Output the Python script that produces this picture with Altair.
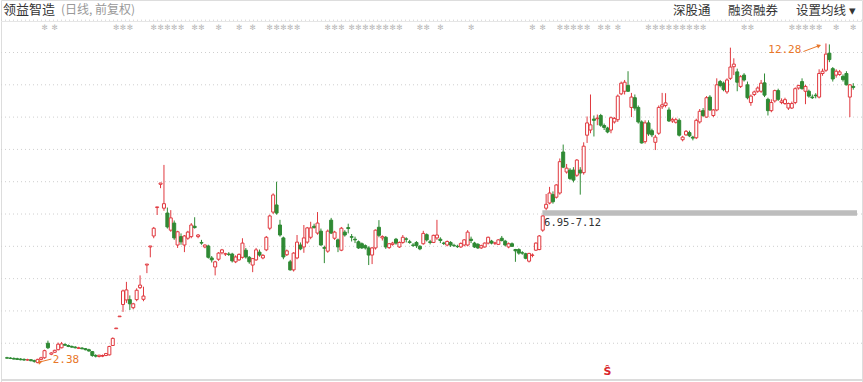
import altair as alt
import pandas as pd
import numpy as np

OPEN = [2.55,2.54,2.53,2.52,2.51,2.50,2.48,2.49,2.46,2.40,2.50,2.55,3.00,2.66,2.72,2.80,2.86,2.96,2.93,2.90,
        2.88,2.84,2.85,2.83,2.80,2.74,2.62,2.59,2.60,2.62,2.64,2.93,3.45,3.82,4.20,4.34,4.35,4.10,4.35,4.72,
        4.36,5.42,5.98,6.32,7.20,7.92,7.18,7.03,6.50,6.72,6.04,6.30,6.04,6.25,6.30,6.62,6.30,6.12,5.98,6.01,
        5.64,5.36,5.60,5.80,5.76,5.76,5.76,5.52,5.58,5.66,5.88,5.66,5.42,5.58,5.82,5.64,5.89,6.56,7.06,7.28,
        6.66,6.26,5.74,5.52,5.27,5.64,6.04,5.98,6.13,6.28,6.62,6.41,6.47,5.96,5.85,6.81,6.25,6.20,5.88,6.44,
        6.58,6.30,6.22,6.14,6.08,6.02,5.95,5.73,5.95,6.59,6.26,6.28,5.96,6.06,6.22,5.98,6.12,6.23,6.14,6.04,
        6.12,6.00,6.08,6.36,6.14,6.12,6.26,6.22,6.10,6.04,6.12,6.03,6.00,5.98,6.04,6.04,6.22,6.10,6.06,5.95,
        5.98,6.10,6.16,6.10,6.06,6.25,6.16,5.98,6.08,5.90,5.90,5.80,5.77,5.54,5.72,5.88,5.90,6.50,7.18,7.34,
        7.60,7.52,7.65,8.92,8.30,8.36,8.36,8.20,8.36,8.28,9.44,9.60,9.94,9.95,10.05,9.74,9.66,9.60,9.85,9.92,
        10.72,10.80,10.98,10.30,10.60,10.30,9.85,9.24,9.82,9.58,9.22,9.50,10.32,10.36,10.22,9.88,9.84,9.90,9.30,9.45,
        9.52,9.38,9.36,9.85,10.20,10.00,10.62,10.05,10.22,11.10,11.05,10.78,11.20,11.56,11.40,10.95,11.30,11.00,10.45,10.70,
        10.80,10.80,11.06,10.55,10.20,10.50,10.82,10.45,10.42,10.28,10.28,10.45,10.90,11.10,10.80,10.80,10.62,10.68,10.62,11.35,
        11.45,11.98,11.50,11.30,11.32,11.26,11.35,10.62,10.95]
HIGH = [2.58,2.57,2.56,2.55,2.54,2.53,2.52,2.50,2.49,2.52,2.58,2.80,3.08,2.72,2.80,3.02,3.04,3.00,2.96,2.93,
        2.91,2.89,2.88,2.85,2.83,2.76,2.66,2.64,2.65,2.70,2.92,3.18,3.47,3.84,4.66,4.90,4.48,4.25,4.70,5.10,
        4.75,5.45,6.01,6.60,7.22,7.96,8.52,7.20,7.12,6.80,6.48,6.40,6.35,6.48,6.72,6.90,6.38,6.20,6.06,6.05,
        5.70,5.55,5.82,5.92,5.80,5.82,5.80,5.72,5.78,6.25,5.95,5.70,5.64,5.95,5.90,5.76,6.32,6.98,7.64,8.00,
        6.82,6.30,5.90,5.58,5.82,6.35,6.12,6.66,6.60,6.76,6.70,7.06,6.55,6.02,6.52,6.88,6.48,6.24,6.60,6.50,
        6.70,6.38,6.30,6.18,6.12,6.06,6.00,5.98,6.52,6.81,6.34,6.32,6.10,6.14,6.26,6.15,6.35,6.28,6.20,6.10,
        6.16,6.04,6.48,6.40,6.20,6.36,6.82,6.28,6.14,6.18,6.16,6.08,6.05,6.12,6.22,6.50,6.30,6.14,6.10,6.05,
        6.12,6.30,6.20,6.14,6.22,6.32,6.20,6.12,6.12,5.92,5.94,5.85,5.80,5.80,5.78,6.12,6.35,6.95,7.62,7.84,
        7.70,7.92,8.72,9.15,8.55,8.42,8.45,8.70,8.45,9.22,10.02,10.70,10.05,10.08,10.10,9.80,9.70,10.02,10.00,10.70,
        11.10,11.15,11.42,10.75,10.70,10.36,9.90,9.90,9.90,9.64,9.45,10.36,10.75,10.74,10.30,9.98,9.98,9.96,9.42,9.60,
        9.58,9.42,9.95,10.25,10.28,10.65,10.68,10.25,11.20,11.15,11.10,11.20,12.15,11.82,11.50,11.30,11.36,11.10,10.70,10.82,
        10.95,11.15,11.35,10.60,10.55,10.85,10.88,10.58,10.60,10.45,10.48,10.92,11.00,11.20,11.00,10.85,10.70,10.74,11.48,11.50,
        12.28,12.25,11.55,11.48,11.46,11.32,11.42,11.02,11.05]
LOW = [2.52,2.51,2.50,2.48,2.47,2.46,2.46,2.44,2.40,2.38,2.47,2.52,2.82,2.63,2.70,2.78,2.84,2.92,2.88,2.86,
       2.84,2.82,2.81,2.78,2.74,2.58,2.56,2.56,2.57,2.60,2.62,2.92,3.45,3.82,3.97,4.25,4.03,4.05,4.30,4.68,
       4.30,5.17,5.66,6.25,6.97,7.80,7.10,6.55,6.45,6.20,5.95,6.05,5.82,6.20,6.25,6.55,6.25,6.05,5.94,5.62,
       5.50,5.10,5.55,5.75,5.70,5.70,5.50,5.48,5.55,5.62,5.62,5.46,5.20,5.55,5.68,5.60,5.85,6.50,7.00,6.98,
       6.30,5.60,5.70,5.25,5.22,5.60,5.88,5.80,6.08,6.22,6.55,6.36,6.02,5.48,5.80,6.38,6.20,5.82,5.85,6.30,
       6.40,6.15,6.10,5.92,5.92,5.90,5.42,5.45,5.90,6.28,6.18,5.92,5.92,6.02,6.05,5.95,6.08,6.12,6.08,5.98,
       5.95,5.88,6.05,6.15,6.06,6.10,6.20,6.10,6.04,6.00,5.98,5.98,5.95,5.95,6.00,6.00,6.10,5.95,5.92,5.92,
       5.96,6.06,6.06,6.04,6.04,6.15,6.00,5.94,5.98,5.52,5.74,5.74,5.60,5.50,5.66,5.86,5.88,6.45,7.12,7.30,
       7.32,7.48,7.60,8.42,8.25,8.05,7.98,8.15,7.60,8.22,9.20,9.50,9.40,9.75,9.70,9.60,9.50,9.50,9.80,9.85,
       10.68,10.70,10.78,10.00,10.20,9.80,9.18,9.18,9.42,9.38,8.98,9.45,10.25,10.30,9.85,9.82,9.80,9.40,9.25,9.42,
       9.38,9.28,9.32,9.80,10.00,9.98,10.20,10.00,10.18,10.92,10.80,10.72,11.15,11.30,10.80,10.90,11.10,10.55,10.35,10.65,
       10.75,10.75,10.62,10.05,10.15,10.45,10.50,10.40,10.38,10.22,10.25,10.40,10.85,10.85,10.40,10.60,10.56,10.58,10.58,11.28,
       11.40,11.70,11.10,11.22,11.28,11.10,10.98,10.00,10.85]
CLOSE = [2.54,2.53,2.51,2.50,2.49,2.48,2.49,2.46,2.44,2.50,2.55,2.77,2.86,2.70,2.78,2.97,2.98,2.94,2.90,2.88,
         2.86,2.86,2.83,2.80,2.76,2.62,2.60,2.63,2.62,2.68,2.90,3.15,3.47,3.84,4.62,4.65,4.22,4.22,4.64,4.80,
         4.46,5.45,6.01,6.56,7.22,7.96,7.32,6.60,6.88,6.26,6.45,6.14,6.32,6.44,6.66,6.58,6.35,6.10,6.04,5.66,
         5.58,5.52,5.79,5.89,5.77,5.75,5.55,5.67,5.75,6.10,5.67,5.52,5.62,5.89,5.73,5.72,6.28,6.94,7.59,7.03,
         6.35,5.67,5.86,5.27,5.79,6.13,5.92,6.26,6.57,6.57,6.58,6.72,6.04,5.94,6.47,6.41,6.44,5.98,6.56,6.35,
         6.55,6.28,6.20,5.95,5.95,5.95,5.73,5.95,6.50,6.34,6.30,5.98,6.08,6.10,6.10,6.12,6.28,6.22,6.12,6.03,
         6.02,5.92,6.40,6.20,6.12,6.34,6.35,6.18,6.09,6.15,6.04,6.02,5.99,6.09,6.20,6.44,6.18,5.98,5.95,6.02,
         6.10,6.28,6.10,6.10,6.20,6.18,6.04,6.08,6.00,5.86,5.79,5.79,5.63,5.78,5.73,6.10,6.32,6.94,7.30,7.65,
         7.38,7.90,8.62,8.45,8.42,8.10,8.05,8.67,8.27,9.10,9.82,9.76,9.90,9.97,9.75,9.68,9.54,9.98,9.96,10.65,
         11.05,11.08,10.80,10.62,10.28,9.85,9.20,9.82,9.48,9.45,9.38,10.30,10.38,10.44,9.88,9.93,9.92,9.44,9.38,9.56,
         9.42,9.35,9.90,10.18,10.05,10.60,10.22,10.22,11.00,10.98,10.85,11.15,11.55,11.64,11.08,11.25,11.15,10.60,10.65,10.78,
         10.90,11.05,10.68,10.20,10.45,10.82,10.55,10.50,10.54,10.42,10.42,10.88,10.98,10.88,10.95,10.65,10.60,10.66,11.35,11.42,
         11.95,11.78,11.18,11.42,11.40,11.16,11.00,11.00,10.92]

GRID_PRICES = [3, 4, 5, 6, 7, 8, 9, 10, 11, 12, 13]
EVENT_IDX = [11, 14, 32, 34, 36, 43, 45, 47, 49, 51, 55, 57, 62, 68, 72, 77, 79, 81, 83, 85,
             94, 96, 98, 101, 103, 105, 107, 109, 111, 113, 115, 121, 123, 127, 136, 154, 157,
             162, 164, 166, 168, 170, 174, 176, 179, 188, 190, 192, 194, 196, 198, 200, 202, 204,
             216, 218, 230, 232, 234, 236, 238, 243, 248]
GAP_LOW, GAP_HIGH = 6.95, 7.12
GAP_LABEL = "6.95-7.12"
HIGH_LABEL = "12.28"
LOW_LABEL = "2.38"
TITLE = "领益智造"
SUBTITLE = "(日线, 前复权)"
MENU = ["深股通", "融资融券", "设置均线 ▾"]
S_MARK_IDX = 176

UP = "#e0383e"
DOWN = "#2f8a34"
ORANGE = "#e8772a"

n = len(OPEN)
df = pd.DataFrame({"i": np.arange(n), "o": OPEN, "h": HIGH, "l": LOW, "c": CLOSE})
df["top"] = df[["o", "c"]].max(axis=1)
df["bot"] = df[["o", "c"]].min(axis=1)
df["dir"] = np.where(df["c"] >= df["o"], "up", "down")

xs = alt.Scale(domain=[-0.29, 249.1], nice=False, zero=False)
ys = alt.Scale(domain=[1.80, 13.625], nice=False, zero=False)
col = alt.Color("dir:N", scale=alt.Scale(domain=["up", "down"], range=[UP, DOWN]), legend=None)
fillc = alt.Fill("dir:N", scale=alt.Scale(domain=["up", "down"], range=["#ffffff", DOWN]), legend=None)

base = alt.Chart(df)

grid = alt.Chart(pd.DataFrame({"p": GRID_PRICES})).mark_rule(
    color="#cfcfcf", strokeDash=[1, 3], strokeWidth=1
).encode(y=alt.Y("p:Q", scale=ys, axis=None), x=alt.value(0), x2=alt.value(863))

gap = alt.Chart(pd.DataFrame({"x": [156.9], "x2": [249.1], "y": [GAP_LOW], "y2": [GAP_HIGH]})).mark_rect(
    color="#bdbdbd"
).encode(x=alt.X("x:Q", scale=xs, axis=None), x2="x2:Q", y=alt.Y("y:Q", scale=ys, axis=None), y2="y2:Q")

gap_text = alt.Chart(pd.DataFrame({"x": [157.4], "y": [6.72], "t": [GAP_LABEL]})).mark_text(
    align="left", baseline="middle", font="DejaVu Sans Mono", fontSize=10.5, color="#333333"
).encode(x=alt.X("x:Q", scale=xs, axis=None), y=alt.Y("y:Q", scale=ys, axis=None), text="t:N")

wicks = base.mark_rule(strokeWidth=1).encode(
    x=alt.X("i:Q", scale=xs, axis=None),
    y=alt.Y("l:Q", scale=ys, axis=None),
    y2="h:Q",
    color=col,
)
bodies = base.mark_bar(size=3, strokeWidth=1).encode(
    x=alt.X("i:Q", scale=xs, axis=None),
    y=alt.Y("bot:Q", scale=ys, axis=None),
    y2="top:Q",
    stroke=alt.Stroke("dir:N", scale=alt.Scale(domain=["up", "down"], range=[UP, DOWN]), legend=None),
    fill=fillc,
)

# annotations for high / low
ann_lines = pd.DataFrame({
    "g": ["h", "h", "l", "l"],
    "x": [233.4, 238.2, 13.0, 9.6],
    "y": [12.03, 12.22, 2.51, 2.42],
})
arrows = alt.Chart(ann_lines).mark_line(color=ORANGE, strokeWidth=1).encode(
    x=alt.X("x:Q", scale=xs, axis=None), y=alt.Y("y:Q", scale=ys, axis=None), detail="g:N"
)
heads = alt.Chart(pd.DataFrame({"x": [238.0, 9.8], "y": [12.21, 2.42], "a": [340, 347]})).mark_point(
    shape="triangle-right", filled=True, color=ORANGE, size=22, opacity=1
).encode(x=alt.X("x:Q", scale=xs, axis=None), y=alt.Y("y:Q", scale=ys, axis=None), angle=alt.Angle("a:Q", scale=None))
high_txt = alt.Chart(pd.DataFrame({"x": [232.8], "y": [12.08], "t": [HIGH_LABEL]})).mark_text(
    align="right", baseline="middle", font="DejaVu Sans Mono", fontSize=11, color=ORANGE
).encode(x=alt.X("x:Q", scale=xs, axis=None), y=alt.Y("y:Q", scale=ys, axis=None), text="t:N")
low_txt = alt.Chart(pd.DataFrame({"x": [13.4], "y": [2.47], "t": [LOW_LABEL]})).mark_text(
    align="left", baseline="middle", font="DejaVu Sans Mono", fontSize=11, color=ORANGE
).encode(x=alt.X("x:Q", scale=xs, axis=None), y=alt.Y("y:Q", scale=ys, axis=None), text="t:N")

# event markers row
events = alt.Chart(pd.DataFrame({"i": EVENT_IDX, "t": ["✻"] * len(EVENT_IDX)})).mark_text(
    font="DejaVu Sans", fontSize=7.5, color="#b8b8b8", baseline="middle"
).encode(x=alt.X("i:Q", scale=xs, axis=None), y=alt.value(28), text="t:N")

s_mark = alt.Chart(pd.DataFrame({"i": [S_MARK_IDX], "t": ["Ŝ"]})).mark_text(
    font="DejaVu Sans", fontSize=11, fontWeight="bold", color="#d9262c", baseline="middle"
).encode(x=alt.X("i:Q", scale=xs, axis=None), y=alt.value(372), text="t:N")

# header
sep = alt.Chart(pd.DataFrame({"a": [0]})).mark_rule(color="#e6e6e6").encode(
    x=alt.value(0), x2=alt.value(863), y=alt.value(21.5))
bottom = alt.Chart(pd.DataFrame({"a": [0]})).mark_rule(color="#dcdcdc", strokeWidth=2).encode(
    x=alt.value(0), x2=alt.value(863), y=alt.value(380))
title = alt.Chart(pd.DataFrame({"t": [TITLE]})).mark_text(
    align="left", baseline="middle", font="Noto Sans CJK SC", fontSize=13, color="#333333"
).encode(x=alt.value(2), y=alt.value(10), text="t:N")
subtitle = alt.Chart(pd.DataFrame({"t": [SUBTITLE]})).mark_text(
    align="left", baseline="middle", font="Noto Sans CJK SC", fontSize=12, color="#999999"
).encode(x=alt.value(60), y=alt.value(10), text="t:N")
menu = alt.Chart(pd.DataFrame({"t": MENU, "x": [672, 727, 795]})).mark_text(
    align="left", baseline="middle", font="Noto Sans CJK SC", fontSize=12.5, color="#333333"
).encode(x=alt.X("x:Q", scale=None), y=alt.value(11), text="t:N")

chart = alt.layer(
    grid, sep, bottom, gap, wicks, bodies, gap_text, arrows, heads, high_txt, low_txt,
    events, s_mark, title, subtitle, menu
).properties(
    width=863, height=382,
    autosize=alt.AutoSizeParams(type="fit", contains="padding"),
    padding=0,
).configure_view(stroke=None).configure(background="#ffffff")

chart.save("out.html", embed_options={"renderer": "svg", "actions": False})
